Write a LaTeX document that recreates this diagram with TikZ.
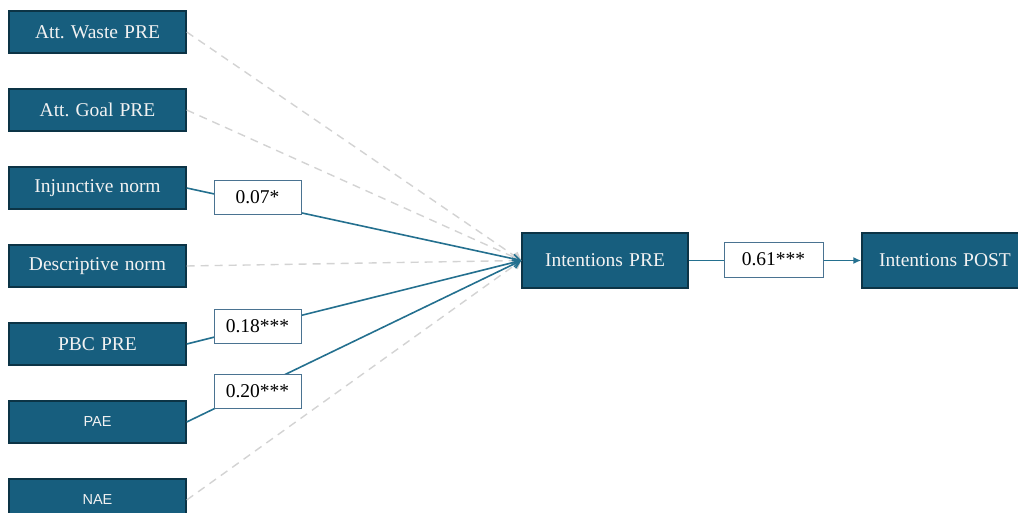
\documentclass[tikz,border=0pt]{standalone}
\usepackage{fontspec}
\setmainfont{Liberation Serif}[WordSpace={1.25,1,1}]
\newfontfamily\arialfont{Liberation Sans}
\usetikzlibrary{arrows.meta}
\definecolor{boxfill}{HTML}{175E7E}
\definecolor{boxedge}{HTML}{0C3446}
\definecolor{pathline}{HTML}{24708F}
\definecolor{nsline}{HTML}{D3D3D3}
\definecolor{labedge}{HTML}{4A7391}
\frenchspacing
\begin{document}
\begin{tikzpicture}[x=1pt,y=-1pt,
  var/.style={draw=boxedge, line width=1.4pt, fill=boxfill, text=white!95!black,
    minimum width=177pt, minimum height=42pt, inner sep=0pt,
    font=\fontsize{19.5}{22}\selectfont},
  sansvar/.style={var, font=\arialfont\fontsize{14.5}{17}\selectfont},
  bigvar/.style={var, minimum width=166pt, minimum height=55pt},
  coef/.style={draw=labedge, line width=0.9pt, fill=white, text=black,
    minimum width=87pt, minimum height=34pt, inner sep=0pt,
    font=\fontsize{19.5}{22}\selectfont},
  sig/.style={draw=pathline, line width=1.6pt, -{Straight Barb[length=7pt,width=9pt]}},
  nonsig/.style={draw=nsline, line width=1.4pt, dash pattern=on 8pt off 6pt,
    -{Straight Barb[length=7pt,width=9pt]}},
  final/.style={draw=pathline, line width=1.6pt, -{Latex[length=8pt,width=7pt]}}
]
\useasboundingbox (0,0) rectangle (1018,513);

% predictors
\node[var] (waste) at (97.5,32) {Att. Waste PRE};
\node[var] (goal) at (97.5,110) {Att. Goal PRE};
\node[var] (inj) at (97.5,188) {Injunctive norm};
\node[var] (desc) at (97.5,266) {Descriptive norm};
\node[var] (pbc) at (97.5,344) {PBC PRE};
\node[sansvar] (pae) at (97.5,422) {PAE};
\node[sansvar] (nae) at (97.5,500) {NAE};

% outcomes
\node[bigvar] (ipre) at (605,260.5) {Intentions PRE};
\node[bigvar] (ipost) at (945,260.5) {Intentions POST};

% non-significant paths
\draw[nonsig] (waste.east) -- (ipre.west);
\draw[nonsig] (goal.east) -- (ipre.west);
\draw[nonsig] (desc.east) -- (ipre.west);
\draw[nonsig] (nae.east) -- (ipre.west);

% significant paths
\draw[sig] (inj.east) -- (ipre.west);
\draw[sig] (pbc.east) -- (ipre.west);
\draw[sig] (pae.east) -- (ipre.west);
\draw[final] (ipre.east) -- (ipost.west);

% path coefficients
\node[coef] (cinj) at (257.5,197) {0.07*};
\node[coef] (cpbc) at (257.5,326) {0.18***};
\node[coef] (cpae) at (257.5,391) {0.20***};
\node[coef, minimum width=99pt, minimum height=35pt] (cint) at (773.5,259.5) {0.61***};
\end{tikzpicture}
\end{document}
